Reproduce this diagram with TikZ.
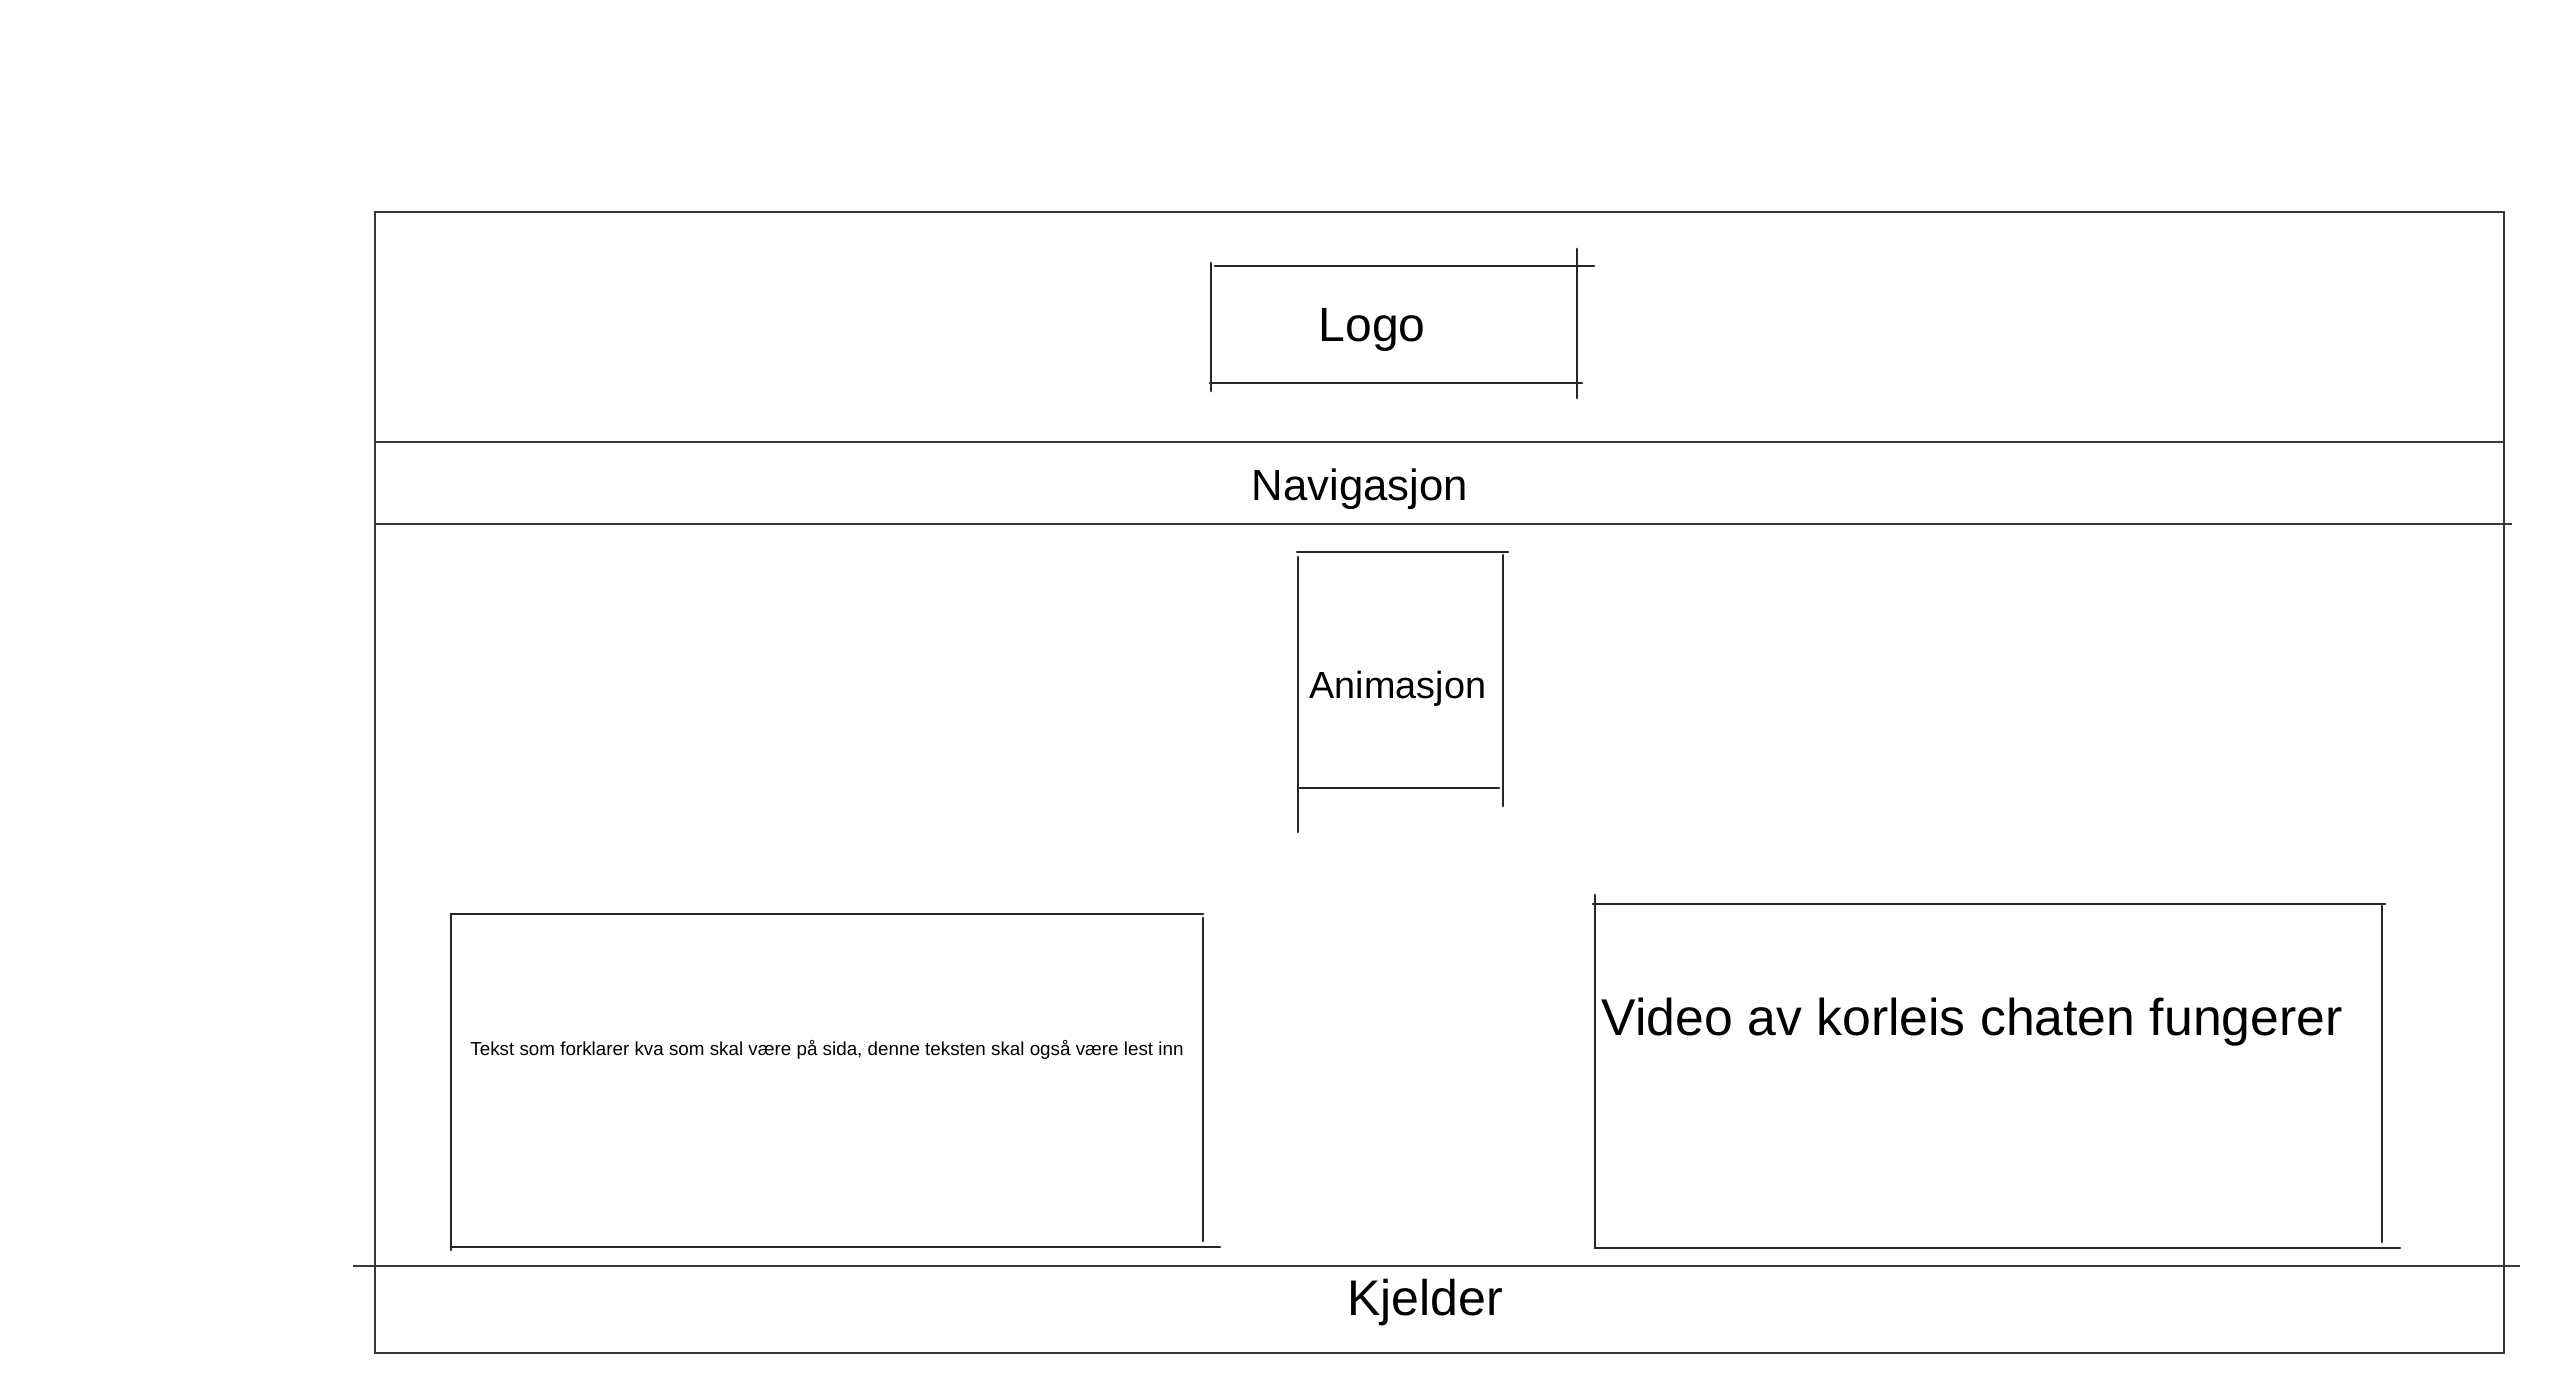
\documentclass[tikz,border=0pt]{standalone}
\usepackage{fontspec}
\setmainfont{Liberation Sans}
\begin{document}
\begin{tikzpicture}[x=0.01cm,y=-0.01cm,
  frame/.style={draw=black!78,line width=0.8pt},
  sketch/.style={draw=black!85,line width=0.8pt,line cap=round},
  label/.style={inner sep=0pt,anchor=base,text=black}]
\fill[white] (0,0) rectangle (2560,1380);
\useasboundingbox (0,0) rectangle (2560,1380);

% page frame and section dividers
\draw[frame] (375,212) rectangle (2504,1353);
\draw[frame] (375,442) -- (2504,442);
\draw[frame] (375,524) -- (2512,524);
\draw[frame] (353,1266) -- (2520,1266);

% logo box
\draw[sketch] (1215,266) -- (1594,266);
\draw[sketch] (1210,383) -- (1582,383);
\draw[sketch] (1211,263) -- (1211,391);
\draw[sketch] (1577,249) -- (1577,398);

% animation box
\draw[sketch] (1297,552) -- (1508,552);
\draw[sketch] (1298,557) -- (1298,832);
\draw[sketch] (1503,555) -- (1503,806);
\draw[sketch] (1299,788) -- (1499,788);

% text box
\draw[sketch] (451,914) -- (1203,914);
\draw[sketch] (451,914) -- (451,1250);
\draw[sketch] (1203,918) -- (1203,1241);
\draw[sketch] (451,1247) -- (1220,1247);

% video box
\draw[sketch] (1593,904) -- (2385,904);
\draw[sketch] (1595,895) -- (1595,1248);
\draw[sketch] (2382,906) -- (2382,1242);
\draw[sketch] (1595,1248) -- (2400,1248);

% labels
\node[label,font=\fontsize{13.66pt}{16pt}\selectfont] (logo) at (1372,342) {Logo};
\node[label,font=\fontsize{12.43pt}{15pt}\selectfont] (nav) at (1360,501) {Navigasjon};
\node[label,font=\fontsize{10.75pt}{13pt}\selectfont] (anim) at (1398,699) {Animasjon};
\node[label,font=\fontsize{5.35pt}{7pt}\selectfont] (tekst) at (827,1056) {Tekst som forklarer kva som skal være på sida, denne teksten skal også være lest inn};
\node[label,anchor=base west,font=\fontsize{14.71pt}{18pt}\selectfont] (video) at (1601,1036) {Video av korleis chaten fungerer};
\node[label,font=\fontsize{14.23pt}{17pt}\selectfont] (kjelder) at (1425,1316) {Kjelder};
\end{tikzpicture}
\end{document}
